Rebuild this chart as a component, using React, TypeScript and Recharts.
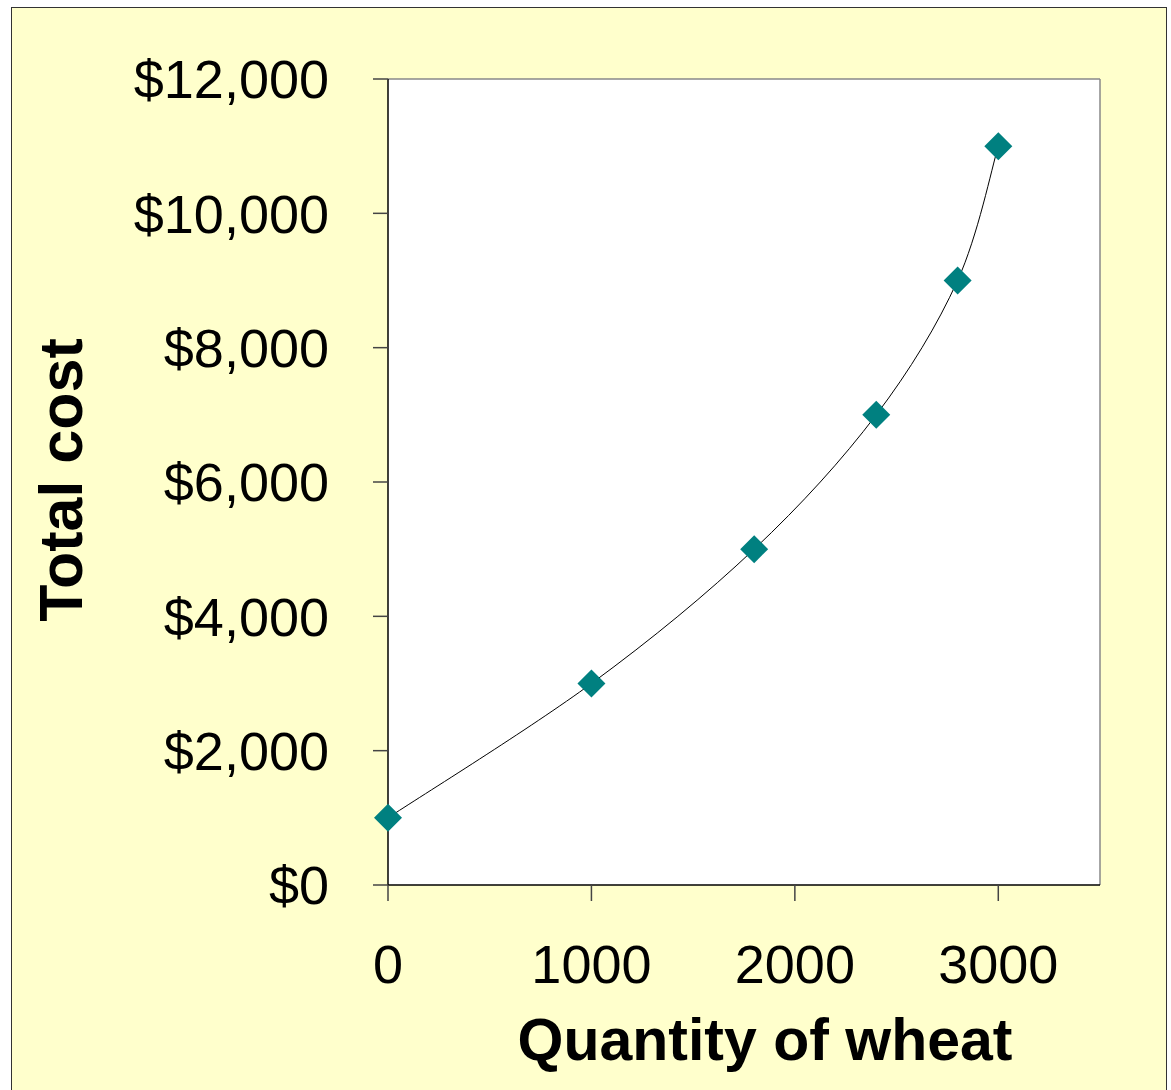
import React from "react";
import { LineChart, Line, XAxis, YAxis, CartesianGrid, ReferenceLine } from "recharts";

const quantities = [0, 1000, 1800, 2400, 2800, 3000];
const totalCosts = [1000, 3000, 5000, 7000, 9000, 11000];
const xTicks = [0, 1000, 2000, 3000];
const yTicks = [0, 2000, 4000, 6000, 8000, 10000, 12000];

const data = quantities.map((q, i) => ({ q, cost: totalCosts[i] }));

const FONT = "'Liberation Sans', Arial, sans-serif";

// Smoothed line similar to spreadsheet "smoothed line" (Catmull-Rom style Bezier)
const smoothCurve = (context: any) => {
  let pts: number[][] = [];
  return {
    areaStart() {},
    areaEnd() {},
    lineStart() {
      pts = [];
    },
    point(x: number, y: number) {
      pts.push([+x, +y]);
    },
    lineEnd() {
      const n = pts.length;
      if (!n) return;
      context.moveTo(pts[0][0], pts[0][1]);
      for (let i = 0; i < n - 1; i++) {
        const p0 = pts[Math.max(i - 1, 0)];
        const p1 = pts[i];
        const p2 = pts[i + 1];
        const p3 = pts[Math.min(i + 2, n - 1)];
        const c1x = p1[0] + (p2[0] - p0[0]) / 6;
        const c1y = p1[1] + (p2[1] - p0[1]) / 6;
        const c2x = p2[0] - (p3[0] - p1[0]) / 6;
        const c2y = p2[1] - (p3[1] - p1[1]) / 6;
        context.bezierCurveTo(c1x, c1y, c2x, c2y, p2[0], p2[1]);
      }
    },
  };
};

const Diamond = (props: any) => {
  const { cx, cy } = props;
  if (cx == null || cy == null) return null;
  const r = 14;
  return (
    <path
      d={`M${cx},${cy - r} L${cx + r},${cy} L${cx},${cy + r} L${cx - r},${cy} Z`}
      fill="#008080"
      stroke="none"
    />
  );
};

const fmtMoney = (v: number) => "$" + v.toLocaleString("en-US");

export default function App() {
  return (
    <div
      style={{
        position: "absolute",
        left: 11,
        top: 7,
        width: 1154,
        height: 1083,
        background: "#FFFFCC",
        borderTop: "1px solid #333",
        borderLeft: "1px solid #333",
        borderRight: "1px solid #333",
        fontFamily: FONT,
      }}
    >
      <LineChart
        width={1154}
        height={1083}
        data={data}
        margin={{ top: 71, right: 66, left: 0, bottom: 0 }}
      >
        <CartesianGrid horizontal={false} vertical={false} fill="#FFFFFF" />
        <ReferenceLine y={12000} stroke="#888" strokeWidth={1.5} />
        <ReferenceLine x={3500} stroke="#888" strokeWidth={1.5} />
        <XAxis
          type="number"
          dataKey="q"
          domain={[0, 3500]}
          ticks={xTicks}
          height={206}
          tickSize={16}
          tickMargin={44}
          axisLine={{ stroke: "#000", strokeWidth: 1.5 }}
          tickLine={{ stroke: "#444", strokeWidth: 1.5 }}
          tick={{ fill: "#000", fontSize: 54, fontFamily: FONT }}
          interval={0}
          label={() => (
            <text
              x={753}
              y={1052}
              textAnchor="middle"
              fontSize={59}
              fontWeight="bold"
              fontFamily={FONT}
              fill="#000"
            >
              Quantity of wheat
            </text>
          )}
        />
        <YAxis
          type="number"
          domain={[0, 12000]}
          ticks={yTicks}
          width={376}
          tickSize={15}
          tickMargin={44}
          tickFormatter={fmtMoney}
          axisLine={{ stroke: "#000", strokeWidth: 1.5 }}
          tickLine={{ stroke: "#444", strokeWidth: 1.5 }}
          tick={{ fill: "#000", fontSize: 54, fontFamily: FONT }}
          interval={0}
          label={() => (
            <text
              x={70}
              y={472}
              transform="rotate(-90, 70, 472)"
              textAnchor="middle"
              fontSize={61}
              fontWeight="bold"
              fontFamily={FONT}
              fill="#000"
            >
              Total cost
            </text>
          )}
        />
        <Line
          type={smoothCurve as any}
          dataKey="cost"
          stroke="#000"
          strokeWidth={1}
          dot={<Diamond />}
          activeDot={false}
          isAnimationActive={false}
        />
      </LineChart>
    </div>
  );
}
